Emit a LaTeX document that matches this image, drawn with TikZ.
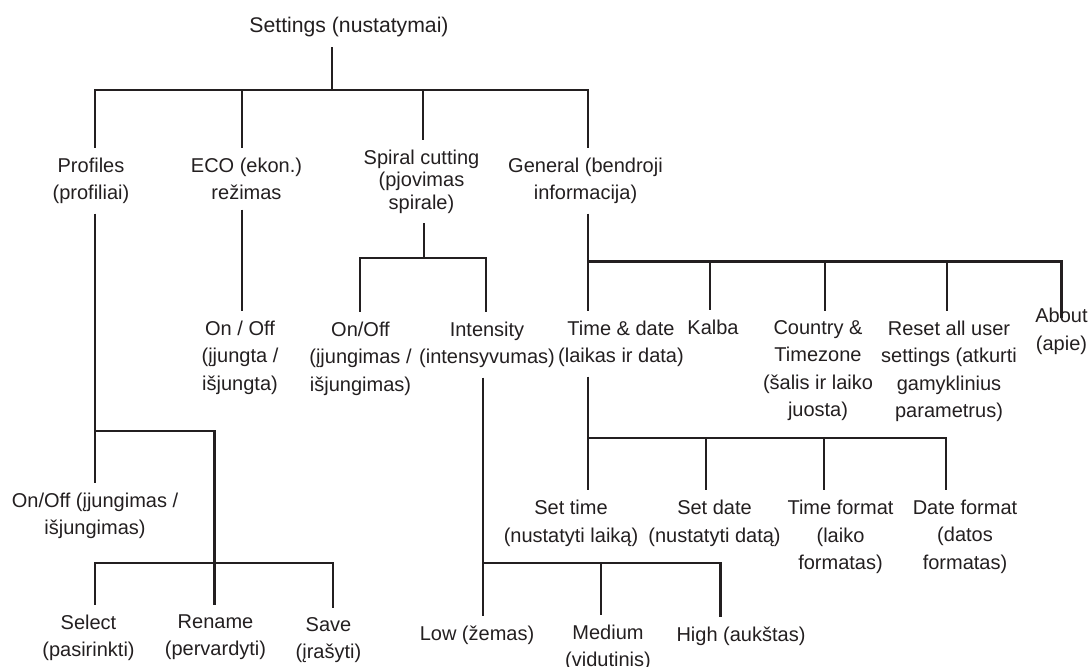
\documentclass[tikz,border=0pt]{standalone}
\usepackage{fontspec}
\setmainfont{Liberation Sans}
\usepackage{tikz}
\definecolor{treeink}{HTML}{231F20}
\tikzset{
  menuitem/.style={anchor=north,align=center,inner sep=0pt,outer xsep=0pt,outer ysep=5pt,
                   text=treeink,font=\fontsize{10}{13.75}\selectfont},
  rootitem/.style={menuitem,font=\fontsize{10.6}{13.75}\selectfont},
  branch/.style={draw=treeink,line width=1.25pt}
}

\begin{document}
\begin{tikzpicture}[x=0.5pt,y=-0.5pt]
    \useasboundingbox (0,0) rectangle (1090,666);

    % menu items
    \node[rootitem] (root) at (349,7.5) {Settings (nustatymai)};

    \node[menuitem] (prof) at (91,147.5) {Profiles\\(profiliai)};
    \node[menuitem] (eco) at (246.5,147.5) {ECO (ekon.)\\režimas};
    \node[menuitem,font=\fontsize{10}{11.25}\selectfont] (spiral) at (421.5,139.5) {Spiral cutting\\(pjovimas\\spirale)};
    \node[menuitem] (gen) at (585.5,147.5) {General (bendroji\\informacija)};

    \node[menuitem] (ecoonoff) at (240,310.5) {On / Off\\(įjungta /\\išjungta)};
    \node[menuitem] (sonoff) at (360.5,311.5) {On/Off\\(įjungimas /\\išjungimas)};
    \node[menuitem] (intens) at (487,311.5) {Intensity\\(intensyvumas)};
    \node[menuitem] (td) at (621,310.5) {Time \& date\\(laikas ir data)};
    \node[menuitem] (kalba) at (713,309.5) {Kalba};
    \node[menuitem] (country) at (818,310.5) {Country \&\\Timezone\\(šalis ir laiko\\juosta)};
    \node[menuitem] (reset) at (949,310.5) {Reset all user\\settings (atkurti\\gamyklinius\\parametrus)};
    \node[menuitem,outer ysep=-5pt] (about) at (1061.5,318) {About\\(apie)};
    \node[menuitem] (ponoff) at (95,482.5) {On/Off (įjungimas /\\išjungimas)};

    \node[menuitem] (settime) at (571,490) {Set time\\(nustatyti laiką)};
    \node[menuitem] (setdate) at (714.5,490) {Set date\\(nustatyti datą)};
    \node[menuitem] (timefmt) at (840.5,490) {Time format\\(laiko\\formatas)};
    \node[menuitem] (datefmt) at (965,490) {Date format\\(datos\\formatas)};
    \node[menuitem] (select) at (88.5,604.5) {Select\\(pasirinkti)};
    \node[menuitem] (rename) at (215.5,604.5) {Rename\\(pervardyti)};
    \node[menuitem] (save) at (328.5,607.5) {Save\\(įrašyti)};
    \node[menuitem] (low) at (477,615.5) {Low (žemas)};
    \node[menuitem] (medium) at (608,614.5) {Medium\\(vidutinis)};
    \node[menuitem] (high) at (741,616.5) {High (aukštas)};

    % bus points
    \coordinate (rb) at (332,90);
    \coordinate (rb-prof) at (95,90);
    \coordinate (rb-eco) at (242,90);
    \coordinate (rb-spiral) at (423,90);
    \coordinate (rb-gen) at (588,90);
    \coordinate (sb) at (424,258);
    \coordinate (sb-onoff) at (360,258);
    \coordinate (sb-intens) at (486,258);
    \coordinate (ib-low) at (483,563);
    \coordinate (ib-medium) at (601,563);
    \coordinate (ib-high) at (720.5,563);
    \coordinate (gb-td) at (588,261.5);
    \coordinate (gb-kalba) at (710,261.5);
    \coordinate (gb-country) at (825,261.5);
    \coordinate (gb-reset) at (947,261.5);
    \coordinate (gb-about) at (1061.5,261.5);
    \coordinate (tb-settime) at (588,438);
    \coordinate (tb-setdate) at (706,438);
    \coordinate (tb-timefmt) at (824,438);
    \coordinate (tb-datefmt) at (946,438);
    \coordinate (pb-onoff) at (95,431);
    \coordinate (pb-sub) at (214.5,431);
    \coordinate (cb-select) at (95,563);
    \coordinate (cb-save) at (333,563);

    % settings
    \draw[branch] (root.south -| rb) -- (rb);
    \draw[branch] (prof.north -| rb-prof) -- (rb-prof) -- (rb-gen) -- (gen.north -| rb-gen);
    \foreach \n in {eco,spiral}
      \draw[branch] (rb-\n) -- (\n.north -| rb-\n);

    % eco
    \draw[branch] (eco.south -| rb-eco) -- (ecoonoff.north -| rb-eco);

    % spiral cutting
    \draw[branch] (spiral.south -| sb) -- (sb);
    \draw[branch] (sonoff.north -| sb-onoff) -- (sb-onoff) -- (sb-intens) -- (intens.north -| sb-intens);
    \draw[branch] (intens.south -| ib-low) -- (low.north -| ib-low);
    \draw[branch] (ib-low) -- (ib-high) -- (high.north -| ib-high);
    \draw[branch] (ib-medium) -- (medium.north -| ib-medium);

    % general
    \draw[branch] (gen.south -| gb-td) -- (td.north -| gb-td);
    \draw[branch] (gb-td) -- (gb-about) -- (about.north -| gb-about);
    \foreach \n in {kalba,country,reset}
      \draw[branch] (gb-\n) -- (\n.north -| gb-\n);
    \draw[branch] (td.south -| tb-settime) -- (settime.north -| tb-settime);
    \draw[branch] (tb-settime) -- (tb-datefmt) -- (datefmt.north -| tb-datefmt);
    \foreach \n in {setdate,timefmt}
      \draw[branch] (tb-\n) -- (\n.north -| tb-\n);

    % profiles
    \draw[branch] (prof.south -| pb-onoff) -- (ponoff.north -| pb-onoff);
    \draw[branch] (pb-onoff) -- (pb-sub) -- (rename.north -| pb-sub);
    \draw[branch] (select.north -| cb-select) -- (cb-select) -- (cb-save) -- (save.north -| cb-save);
\end{tikzpicture}
\end{document}
